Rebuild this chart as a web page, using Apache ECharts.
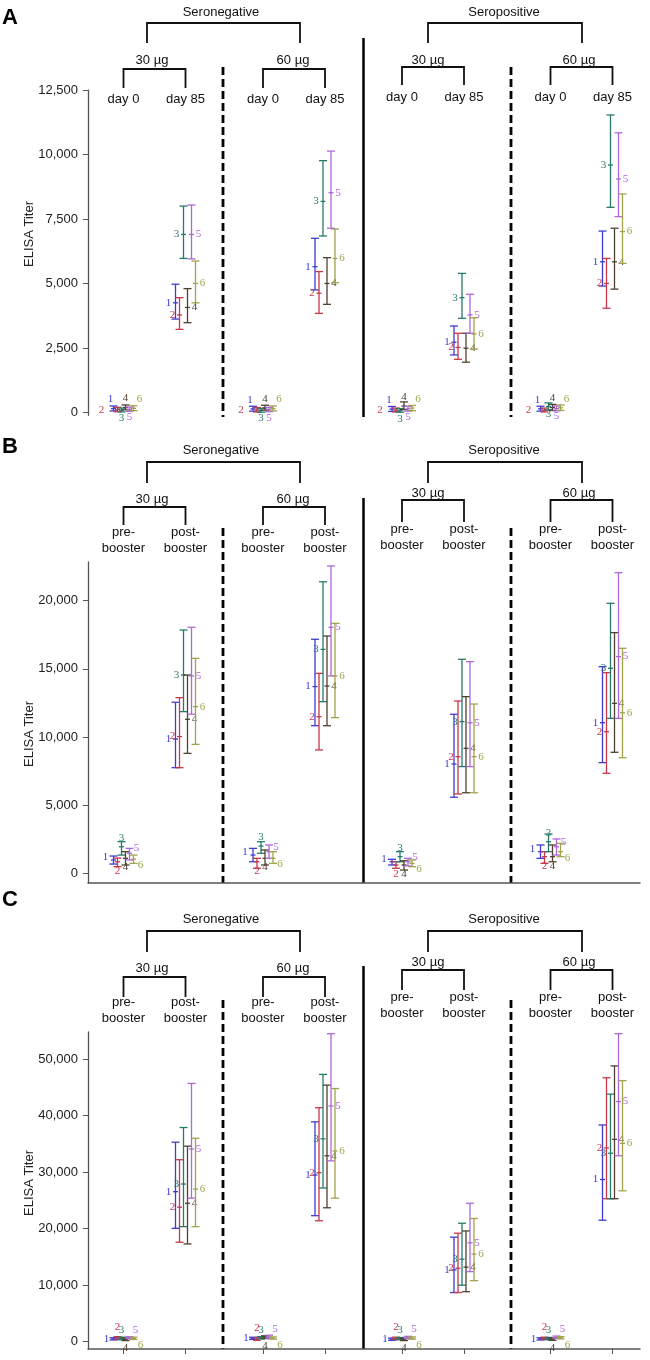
<!DOCTYPE html>
<html><head><meta charset="utf-8">
<script src="https://cdn.jsdelivr.net/npm/echarts@6/dist/echarts.min.js"></script>
<style>html,body{margin:0;padding:0;background:#fff}#c{width:650px;height:1360px}</style>
</head><body><div id="c"></div>
<script>
// ---------------- data ----------------
const seriesNames = ['1', '2', '3', '4', '5', '6'];
const groupNames = ['Seronegative', 'Seropositive'];
const doseNames = ['30 µg', '60 µg'];
const panelLetters = ['A', 'B', 'C'];
const yTitle = 'ELISA Titer';
const catsA = ['day 0', 'day 85', 'day 0', 'day 85', 'day 0', 'day 85', 'day 0', 'day 85'];
const catsBC = ['pre-\nbooster', 'post-\nbooster', 'pre-\nbooster', 'post-\nbooster', 'pre-\nbooster', 'post-\nbooster', 'pre-\nbooster', 'post-\nbooster'];
const ticksA = [0, 2500, 5000, 7500, 10000, 12500];
const ticksB = [0, 5000, 10000, 15000, 20000];
const ticksC = [0, 10000, 20000, 30000, 40000, 50000];

// rows: seroneg30 t0, seroneg30 t1, seroneg60 t0, seroneg60 t1, seropos30 t0, seropos30 t1, seropos60 t0, seropos60 t1
const meanA = [
  [160, 120, 100, 200, 130, 170],
  [4260, 3790, 6910, 4080, 6910, 5010],
  [150, 110, 90, 190, 120, 160],
  [5660, 4630, 8190, 5010, 8530, 5980],
  [140, 100, 80, 260, 150, 180],
  [2730, 2530, 4460, 2500, 3790, 3050],
  [150, 100, 240, 200, 160, 190],
  [5850, 5010, 9600, 5850, 9060, 7020]
];
const lowA = [
  [70, 40, 30, 110, 50, 80],
  [3630, 3230, 5980, 3490, 5960, 4260],
  [60, 30, 20, 100, 40, 70],
  [4760, 3850, 6850, 4200, 7150, 5040],
  [50, 30, 20, 120, 60, 80],
  [2240, 2070, 3660, 1960, 3080, 2470],
  [60, 30, 110, 90, 70, 90],
  [4910, 4050, 7960, 4790, 7600, 5790]
];
const highA = [
  [260, 210, 180, 300, 220, 270],
  [4980, 4460, 8010, 4810, 8050, 5880],
  [250, 200, 170, 290, 210, 260],
  [6760, 5470, 9770, 6010, 10140, 7120],
  [240, 180, 160, 420, 250, 280],
  [3360, 3080, 5400, 3080, 4590, 3680],
  [250, 180, 380, 320, 260, 300],
  [7040, 5980, 11540, 7150, 10850, 8480]
];
const meanB = [
  [980, 850, 1950, 1100, 1470, 1030],
  [9850, 10030, 14550, 11300, 14480, 12230],
  [1340, 850, 2000, 1100, 1590, 1100],
  [13700, 11490, 16430, 13740, 18050, 14480],
  [850, 610, 1220, 610, 850, 730],
  [8020, 8560, 11130, 9170, 11050, 8560],
  [1590, 1220, 2320, 1220, 1950, 1590],
  [11050, 10390, 15040, 12470, 15900, 11780]
];
const lowB = [
  [680, 490, 1340, 610, 980, 730],
  [7750, 7750, 11860, 8800, 11670, 9460],
  [850, 370, 1470, 610, 1100, 730],
  [10830, 9050, 12590, 10830, 14480, 11420],
  [610, 370, 850, 240, 540, 490],
  [5580, 5820, 7830, 5910, 7830, 5910],
  [1100, 730, 1590, 850, 1340, 1220],
  [8120, 7340, 11370, 8880, 11370, 8480]
];
const highB = [
  [1270, 1120, 2320, 1590, 1830, 1340],
  [12550, 12890, 17850, 14550, 18050, 15770],
  [1830, 1100, 2320, 1710, 2080, 1590],
  [17170, 14670, 21390, 17410, 22550, 18340],
  [1030, 850, 1590, 920, 1100, 980],
  [11670, 12640, 15700, 12960, 15530, 12420],
  [2080, 1590, 2880, 2080, 2520, 2200],
  [15160, 14720, 19810, 17660, 22060, 16510]
];
const meanC = [
  [500, 650, 550, 400, 700, 600],
  [26550, 23800, 27900, 24500, 34100, 27000],
  [600, 450, 700, 800, 900, 650],
  [29500, 29900, 35900, 32900, 41700, 33750],
  [450, 600, 550, 400, 750, 650],
  [12700, 13000, 14600, 13200, 17500, 15500],
  [500, 600, 550, 450, 800, 700],
  [28700, 34300, 33350, 35800, 42500, 35100]
];
const lowC = [
  [300, 400, 350, 200, 500, 400],
  [20060, 17600, 20360, 17300, 25400, 20360],
  [400, 250, 500, 550, 650, 450],
  [22300, 21400, 27200, 23700, 32000, 25400],
  [250, 400, 350, 200, 550, 450],
  [8700, 8700, 10000, 8850, 12400, 10800],
  [300, 400, 350, 250, 600, 500],
  [21500, 25300, 25300, 25300, 32900, 26700]
];
const highC = [
  [700, 900, 800, 650, 900, 800],
  [35300, 32200, 37900, 34600, 45700, 36000],
  [800, 700, 900, 1050, 1150, 850],
  [38900, 41400, 47300, 45400, 54500, 44800],
  [650, 800, 750, 600, 950, 850],
  [18500, 19200, 20960, 19600, 24500, 21800],
  [700, 800, 750, 650, 1000, 900],
  [38350, 46700, 43800, 48800, 54500, 46200]
];

// ---------------- styling / layout ----------------
const colors = ['#3c3cd4', '#c8374a', '#277a6a', '#4f4030', '#ad68dc', '#a2a24c'];
const FONT = '"Liberation Sans", Arial, sans-serif';
const panels = [
  { cats: catsA, ticks: ticksA, mean: meanA, low: lowA, high: highA, min: -100, max: 12500, top: 90.2, height: 325.1, bottomLine: false, bottomTicks: false,
    xOff: [-19, -19, -17, -17],
    hdr: { letterY: 18, groupY: 12, brTop: 23, brBot: 43, doseY: [60, 60, 60, 60], subTop: [69, 69, 67, 67], subBot: [88, 88, 85, 85], solidTop: 38, dashTop: 67, bottom: 417, titleY: 234 },
    lowLab: [[-3, -9], [-16, 0], [0, 8], [0, -9], [0, 8], [6, -9]] },
  { cats: catsBC, ticks: ticksB, mean: meanB, low: lowB, high: highB, min: -710, max: 22840, top: 562, height: 321, bottomLine: true, bottomTicks: false,
    xOff: [4, 4, 7, 7],
    hdr: { letterY: 447, groupY: 450, brTop: 462, brBot: 483, doseY: [499, 499, 493, 493], subTop: [507, 507, 500, 500], subBot: [525, 525, 522, 522], solidTop: 498, dashTop: 528, bottom: 883, titleY: 734 },
    lowLab: [[-8, -3], [0, 9], [0, -9], [0, 9], [7, -5], [7, 6]] },
  { cats: catsBC, ticks: ticksC, mean: meanC, low: lowC, high: highC, min: -1290, max: 54800, top: 1032, height: 317, bottomLine: true, bottomTicks: true,
    xOff: [4, 4, 9, 9],
    hdr: { letterY: 900, groupY: 919, brTop: 931, brBot: 952, doseY: [968, 968, 962, 962], subTop: [977, 977, 970, 970], subBot: [997, 997, 990, 990], solidTop: 966, dashTop: 1000, bottom: 1349, titleY: 1183 },
    lowLab: [[-7, 0], [0, -11], [0, -8], [0, 9], [6, -8], [7, 7]] }
];
const subLefts = [92.5, 232, 371, 519.5];
const subWidth = 124;
const subLegs = [[123.5, 185.5], [263, 325], [402, 464], [550.5, 612.5]];
const doseX = [152, 293, 428, 579];
const topLegs = [[147, 300], [428, 582]];
const groupX = [221, 504];

const fmt = v => v.toLocaleString('en-US');

const grid = [], xAxis = [], yAxis = [], series = [], graphic = [];

panels.forEach((p, pi) => {
  const fg = grid.length;
  grid.push({ left: 88, top: p.top, width: 552, height: p.height });
  xAxis.push({ gridIndex: fg, type: 'value', min: 0, max: 1, position: 'bottom',
    axisLine: { show: p.bottomLine, onZero: false, lineStyle: { color: '#555', width: 1.5 } },
    axisTick: { show: false }, axisLabel: { show: false }, splitLine: { show: false } });
  yAxis.push({ gridIndex: fg, type: 'value', min: p.min, max: p.max,
    axisLine: { show: true, lineStyle: { color: '#555', width: 1.3 } },
    axisTick: { show: true, length: 5, customValues: p.ticks, lineStyle: { color: '#555' } },
    axisLabel: { show: true, customValues: p.ticks, formatter: fmt, margin: 10, fontSize: 13, fontFamily: FONT, color: '#222' },
    splitLine: { show: false } });

  for (let g = 0; g < 4; g++) {
    const gi = grid.length;
    grid.push({ left: subLefts[g], top: p.top, width: subWidth, height: p.height });
    const xi = xAxis.length;
    xAxis.push({ gridIndex: gi, type: 'category', data: p.cats.slice(g * 2, g * 2 + 2), position: 'top', offset: p.xOff[g],
      axisLine: { show: false }, axisTick: { show: false }, splitLine: { show: false },
      axisLabel: { show: true, interval: 0, margin: 2, fontSize: 13, lineHeight: 16, fontFamily: FONT, color: '#111' } });
    if (p.bottomTicks) {
      xAxis.push({ gridIndex: gi, type: 'category', data: p.cats.slice(g * 2, g * 2 + 2), position: 'bottom',
        axisLine: { show: false, onZero: false }, axisTick: { show: true, alignWithLabel: true, length: 5, lineStyle: { color: '#555' } },
        axisLabel: { show: false }, splitLine: { show: false } });
    }
    const yi = yAxis.length;
    yAxis.push({ gridIndex: gi, type: 'value', min: p.min, max: p.max, show: false });
    const data = [];
    for (let c = 0; c < 2; c++) {
      const row = g * 2 + c;
      for (let s = 0; s < 6; s++) data.push([c, p.low[row][s], p.mean[row][s], p.high[row][s], s]);
    }
    series.push({
      type: 'custom', xAxisIndex: xi, yAxisIndex: yi, clip: false, silent: true,
      data: data, encode: { x: 0, y: [1, 2, 3] },
      renderItem: function (params, api) {
        const c = api.value(0), lo = api.value(1), mu = api.value(2), hi = api.value(3), s = api.value(4);
        const pLo = api.coord([c, lo]), pHi = api.coord([c, hi]), pMu = api.coord([c, mu]);
        const x = pLo[0] + (s - 2.5) * 4;
        const color = colors[s];
        const st = { stroke: color, lineWidth: 1.3 };
        let lx, ly;
        if (c === 1) { lx = x + (s < 3 ? -7 : 7); ly = pMu[1]; }
        else { lx = x + p.lowLab[s][0]; ly = pMu[1] + p.lowLab[s][1]; }
        return { type: 'group', children: [
          { type: 'line', shape: { x1: x, y1: pLo[1], x2: x, y2: pHi[1] }, style: st },
          { type: 'line', shape: { x1: x - 4, y1: pHi[1], x2: x + 4, y2: pHi[1] }, style: st },
          { type: 'line', shape: { x1: x - 4, y1: pLo[1], x2: x + 4, y2: pLo[1] }, style: st },
          { type: 'line', shape: { x1: x - 2.5, y1: pMu[1], x2: x + 2.5, y2: pMu[1] }, style: st },
          { type: 'text', x: lx, y: ly, style: { text: seriesNames[s], fill: color, font: '11px "Liberation Serif", serif', align: 'center', verticalAlign: 'middle', textAlign: 'center', textVerticalAlign: 'middle' } }
        ] };
      }
    });
  }

  const h = p.hdr;
  graphic.push({ type: 'text', x: 2, y: h.letterY, style: { text: panelLetters[pi], font: 'bold 22px ' + FONT, fill: '#000', verticalAlign: 'middle' } });
  graphic.push({ type: 'text', x: 29, y: h.titleY, rotation: Math.PI / 2, style: { text: yTitle, font: '13px ' + FONT, fill: '#222', align: 'center', verticalAlign: 'middle' } });
  for (let k = 0; k < 2; k++) {
    graphic.push({ type: 'text', x: groupX[k], y: h.groupY, style: { text: groupNames[k], font: '13px ' + FONT, fill: '#111', align: 'center', verticalAlign: 'middle' } });
    graphic.push({ type: 'polyline', shape: { points: [[topLegs[k][0], h.brBot], [topLegs[k][0], h.brTop], [topLegs[k][1], h.brTop], [topLegs[k][1], h.brBot]] }, style: { stroke: '#111', lineWidth: 1.8, fill: null } });
  }
  for (let g = 0; g < 4; g++) {
    graphic.push({ type: 'text', x: doseX[g], y: h.doseY[g], style: { text: doseNames[g % 2], font: '13px ' + FONT, fill: '#111', align: 'center', verticalAlign: 'middle' } });
    graphic.push({ type: 'polyline', shape: { points: [[subLegs[g][0], h.subBot[g]], [subLegs[g][0], h.subTop[g]], [subLegs[g][1], h.subTop[g]], [subLegs[g][1], h.subBot[g]]] }, style: { stroke: '#111', lineWidth: 1.8, fill: null } });
  }
  graphic.push({ type: 'line', shape: { x1: 363.5, y1: h.solidTop, x2: 363.5, y2: h.bottom }, style: { stroke: '#000', lineWidth: 2.5 } });
  [223, 511].forEach(xx => graphic.push({ type: 'line', shape: { x1: xx, y1: h.dashTop, x2: xx, y2: h.bottom }, style: { stroke: '#000', lineWidth: 2.8, lineDash: [8, 4] } }));
});

const chart = echarts.init(document.getElementById('c'), null, { renderer: 'canvas' });
chart.setOption({ animation: false, backgroundColor: '#fff', grid, xAxis, yAxis, series, graphic });
</script>
</body></html>
